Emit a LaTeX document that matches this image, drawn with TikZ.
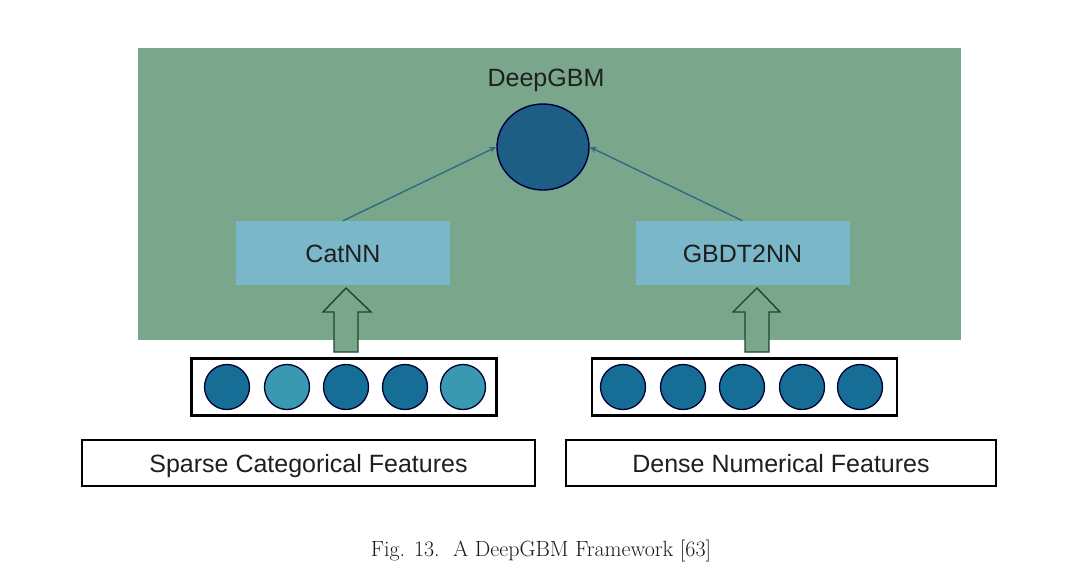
\documentclass[tikz,border=0pt]{standalone}
\usepackage{fontspec}
\setsansfont{Liberation Sans}
\usetikzlibrary{shapes.geometric,arrows.meta}
\definecolor{bggreen}{RGB}{122,166,139}
\definecolor{boxblue}{RGB}{122,183,200}
\definecolor{deepblue}{RGB}{28,94,132}
\definecolor{dotdark}{RGB}{22,110,150}
\definecolor{dotlight}{RGB}{58,152,176}
\definecolor{linkteal}{RGB}{46,108,132}
\definecolor{arrowedge}{RGB}{30,70,44}
\tikzset{
  lbl/.style={font=\sffamily\fontsize{25}{28}\selectfont, text=black!88, text height=18pt, text depth=0pt},
  modbox/.style={lbl, fill=boxblue, minimum width=214pt, minimum height=64pt, inner sep=0pt},
  rowbox/.style={draw=black, line width=2.2pt, minimum width=305pt, minimum height=57pt, inner sep=0pt},
  featbox/.style={lbl, draw=black, line width=2.2pt, minimum height=46pt, inner sep=0pt},
  dot/.style={circle, draw=black!80!blue, line width=1.3pt, minimum size=45pt, inner sep=0pt},
  link/.style={draw=linkteal, line width=1.4pt, -{Stealth[length=7pt,width=6pt]}},
  blockarrow/.style={draw=arrowedge, fill=bggreen, line width=1.4pt, line join=miter}
}
\begin{document}
\begin{tikzpicture}[x=1pt,y=-1pt]
\useasboundingbox (0,0) rectangle (1080,573);
\fill[white] (0,0) rectangle (1080,573);
% background panel
\fill[bggreen] (138,48) rectangle (961,340);
% top node
\node[lbl] (title) at (546,77) {DeepGBM};
\node[ellipse, draw=black!75!blue, line width=1.4pt, fill=deepblue, minimum width=92pt, minimum height=86pt, inner sep=0pt] (deep) at (543,147) {};
% module boxes
\node[modbox] (cat) at (343,253) {CatNN};
\node[modbox] (gbdt) at (742.5,253) {GBDT2NN};
\draw[link] (cat.north) -- (deep.west);
\draw[link] (gbdt.north) -- (deep.east);
% block arrows
\draw[blockarrow] (334,352) -- (334,312) -- (323,312) -- (346,288) -- (371,312) -- (358,312) -- (358,352) -- cycle;
\draw[blockarrow] (745,352) -- (745,312) -- (733,312) -- (757,288) -- (780,312) -- (769,312) -- (769,352) -- cycle;
% feature rows
\node[rowbox] (rowL) at (344,387) {};
\node[rowbox] (rowR) at (744.5,387) {};
\node[dot, fill=dotdark] (l1) at (227,387) {};
\node[dot, fill=dotlight] (l2) at (287,387) {};
\node[dot, fill=dotdark] (l3) at (346,387) {};
\node[dot, fill=dotdark] (l4) at (405,387) {};
\node[dot, fill=dotlight] (l5) at (463,387) {};
\node[dot, fill=dotdark] (r1) at (623,387) {};
\node[dot, fill=dotdark] (r2) at (683,387) {};
\node[dot, fill=dotdark] (r3) at (742,387) {};
\node[dot, fill=dotdark] (r4) at (802,387) {};
\node[dot, fill=dotdark] (r5) at (860,387) {};
% feature labels
\node[featbox, minimum width=453pt] (sparse) at (308.5,463) {Sparse Categorical Features};
\node[featbox, minimum width=430pt] (dense) at (781,463) {Dense Numerical Features};
% caption
\node[font=\fontsize{22}{25}\selectfont, text=black!90] (cap) at (541,551) {Fig. 13.\ \ A DeepGBM Framework [63]};
\end{tikzpicture}
\end{document}
